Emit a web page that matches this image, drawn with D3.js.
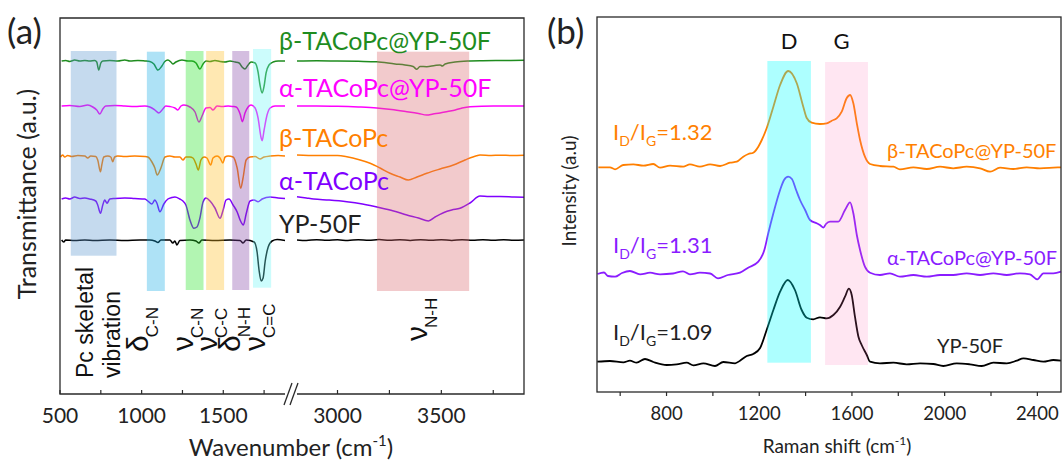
<!DOCTYPE html>
<html>
<head>
<meta charset="utf-8">
<script src="https://cdn.jsdelivr.net/npm/d3@7"></script>
<style>
  body { margin: 0; background: #fff; }
  svg { display: block; }
</style>
</head>
<body>
<svg id="fig" width="1063" height="461"></svg>
<script>
// ---------------- (a) FTIR spectra ----------------
// Each trace: [wavenumber (cm-1), transmittance change (a.u.) from its own baseline]
const ftirNames   = ["β-TACoPc@YP-50F", "α-TACoPc@YP-50F", "β-TACoPc", "α-TACoPc", "YP-50F"];
const ftirColors  = ["#1f8c1f", "#ff00ff", "#ff7f00", "#7f00ff", "#000000"];
const ftirOffsets = [333, 288, 238, 195, 154];   // vertical stacking (a.u.)

const betaHybridLow = [[510,0],[535,0.5],[560,-0.5],[590,1],[621,0],[652,0.5],[682,0],[713,0.5],[725,-1],[737,-9],[750,-2],[762,0],[805,0.5],[854,0],[897,1],[928,0],[977,0.5],[1020,0],[1050,-0.5],[1075,-3],[1100,-9],[1124,-5],[1142,-0.5],[1161,1],[1179,-1],[1191,-3],[1210,-1],[1247,1],[1284,0],[1308,0],[1333,-2],[1357,-8],[1376,-3],[1394,0],[1419,-0.5],[1449,0.5],[1480,-0.5],[1511,-1],[1541,0],[1572,-1],[1597,-2],[1615,-6],[1633,-8],[1652,-4],[1670,-1],[1695,-2],[1713,-11],[1725,-24],[1738,-32],[1750,-25],[1762,-12],[1780,-4],[1805,-1],[1836,0],[1878,0]];
const betaHybridHigh = [[2805,0],[2900,0.3],[3000,0],[3100,-0.3],[3189,-0.7],[3277,-3],[3325,-4],[3364,-5.5],[3382,-8.3],[3397,-5.5],[3430,-5.7],[3469,-4.5],[3494,-4],[3505,-5],[3518,-3],[3566,-1],[3638,0],[3700,0.3],[3782,0.5],[3898,0.7]];

const alphaHybridLow = [[510,0],[560,0.5],[621,-0.5],[670,1],[701,-1],[725,-4],[744,-8],[762,-3],[780,0],[836,0.5],[897,0],[958,-0.5],[1020,0],[1050,-1],[1081,-4],[1105,-7],[1130,-3],[1148,0],[1173,-0.5],[1204,-2],[1222,-4],[1241,0],[1259,1],[1296,-1],[1327,-6],[1351,-16],[1370,-10],[1394,-2],[1419,-1.5],[1437,-4],[1462,0],[1493,-0.5],[1530,0],[1560,-0.5],[1579,-1],[1603,-8],[1617,-15.7],[1633,-7],[1652,-1],[1670,1],[1695,-2],[1713,-12],[1732,-32],[1738,-34.7],[1750,-24],[1768,-9],[1787,-2],[1817,0],[1878,0]];
const alphaHybridHigh = [[2805,0],[2900,0],[3000,-0.3],[3100,-1],[3189,-2],[3260,-3.5],[3334,-5.7],[3390,-7.5],[3430,-9],[3460,-8],[3494,-7],[3530,-5.5],[3567,-4],[3600,-2],[3638,-0.7],[3750,0],[3898,0]];

const betaPcLow = [[504,-1],[516,1],[529,-1],[547,0.5],[572,-0.5],[609,0.5],[652,0],[670,-2],[688,0],[719,-0.5],[731,-4],[748,-15.7],[756,-9],[768,-1],[793,0],[811,-1],[823,-5.7],[835,-1],[854,0],[897,-0.5],[958,0],[1020,-0.5],[1038,-1],[1063,-6],[1081,-12],[1095,-19],[1118,-12],[1143,-1],[1173,0],[1204,-1],[1234,-1],[1253,-4],[1271,-1],[1296,-1],[1314,-2],[1333,-8],[1347,-14],[1363,-4],[1382,-1],[1400,-2],[1423,-9],[1437,-2],[1462,0],[1480,-2],[1497,-7],[1511,-1],[1530,0],[1560,-1],[1585,-12],[1607,-32.3],[1621,-22],[1640,-4],[1664,-1],[1695,-0.5],[1725,-3],[1750,-1],[1787,0],[1836,0.5],[1878,0]];
const betaPcHigh = [[2805,1],[2900,0.5],[3000,0.5],[3045,-0.7],[3109,-4],[3157,-7.3],[3205,-12],[3253,-17.3],[3301,-21],[3341,-24],[3383,-21],[3430,-17.3],[3494,-13],[3558,-9],[3614,-4],[3670,0.3],[3686,1],[3740,0.5],[3782,0.8],[3840,0.5],[3898,0.7]];

const alphaPcLow = [[510,0],[535,1],[560,0],[590,2],[621,0.5],[652,1],[682,0],[719,-2],[731,-6],[748,-14.3],[762,-6],[774,-1],[788,-4.3],[805,0],[836,0.5],[897,1],[958,0.5],[1020,0],[1038,-2],[1063,-5],[1081,-1],[1093,-4],[1112,-12.7],[1136,-5],[1161,0],[1185,1.5],[1204,2],[1234,0],[1253,-2],[1271,-6],[1296,-21],[1320,-29.3],[1339,-28],[1357,-19],[1376,-3],[1394,1],[1419,-2],[1449,-9],[1480,-19.3],[1499,-11],[1517,-1],[1535,0],[1560,-6],[1585,-13],[1603,-21],[1623,-26],[1640,-15],[1664,-2],[1689,-1],[1713,-2.7],[1738,0],[1787,2],[1836,1],[1878,0.5]];
const alphaPcHigh = [[2805,2.3],[2850,1],[2885,0],[2960,-1],[3045,-2.7],[3120,-5],[3205,-8.7],[3270,-12],[3334,-16],[3390,-19],[3438,-22],[3470,-18],[3510,-13.7],[3550,-11],[3590,-9.3],[3638,-4],[3686,3],[3730,2.5],[3782,2.5],[3850,2],[3898,1.7]];

const ypLow = [[510,0],[523,-2],[535,0],[590,-0.5],[652,0],[713,-0.5],[805,0],[897,-0.5],[989,0],[1050,0],[1081,-1],[1100,-2.5],[1118,0],[1173,0],[1191,-3],[1204,-1],[1216,-5],[1234,-0.5],[1296,0],[1333,-1],[1351,-3],[1369,0],[1449,-0.5],[1541,0],[1603,-0.5],[1621,-3],[1640,0],[1689,-2],[1707,-12],[1719,-30],[1732,-41],[1744,-38],[1756,-22],[1775,-7],[1799,-1],[1830,0.5],[1878,-0.5]];
const ypHigh = [[2805,0],[2850,-0.5],[2900,0.3],[2950,-0.3],[3000,0.2],[3050,-0.5],[3100,0.3],[3150,-0.2],[3200,0.4],[3250,-0.3],[3300,0.2],[3350,-0.4],[3400,0.3],[3450,-0.2],[3500,0.3],[3550,-0.4],[3600,0.2],[3650,-0.3],[3700,0.3],[3750,-0.2],[3800,0.2],[3850,-0.3],[3898,0]];

const ftirLow  = [betaHybridLow, alphaHybridLow, betaPcLow, alphaPcLow, ypLow];
const ftirHigh = [betaHybridHigh, alphaHybridHigh, betaPcHigh, alphaPcHigh, ypHigh];

// Assignment bands (cm-1) and their vertical extent (a.u.)
const bandLo     = [566, 1032, 1270, 1395, 1555, 1682, 3190];
const bandHi     = [846, 1142, 1379, 1505, 1659, 1793, 3634];
const bandTop    = [343, 342.3, 343, 343, 343, 345, 342.3];
const bandBottom = [138.3, 103, 104, 104, 104, 106.3, 103];
const bandColors = ["#5996ce", "#18ace5", "#23e223", "#ffbd23", "#8445a6", "#6df6f6", "#da686d"];

// Band assignment labels: [symbol, subscript, anchor wavenumber]
const bandSymbols = ["δ", "ν", "ν", "δ", "ν", "ν"];
const bandSubs    = ["C-N", "C-N", "C-C", "N-H", "C=C", "N-H"];
const bandAnchors = [1039, 1316, 1460, 1602, 1756, 3430];

const ftirTicksLow  = [500, 1000, 1500];
const ftirMinorLow  = [750, 1250, 1750];
const ftirTicksHigh = [3000, 3500];
const ftirMinorHigh = [3250, 3750];

// ---------------- (b) Raman spectra ----------------
// [Raman shift (cm-1), intensity (a.u.), offset included]
const ramanNames  = ["β-TACoPc@YP-50F", "α-TACoPc@YP-50F", "YP-50F"];
const ramanColors = ["#ff7f00", "#8a1cff", "#000000"];
const ramanRatios = ["1.32", "1.31", "1.09"];

const ramanBeta = [[506,224.7],[556,224.7],[578,222.7],[613,227],[657,227.7],[700,226.3],[743,228],[772,224.3],[815,226.3],[872,225.3],[901,227.7],[944,225.3],[988,227.7],[1031,226],[1074,229.3],[1103,230.3],[1131,235.3],[1153,238],[1174,239.3],[1196,245.3],[1211,252],[1232,263.7],[1261,285.3],[1290,307],[1325,321],[1362,308.7],[1390,285.3],[1405,274],[1426,269.3],[1462,268],[1491,268.7],[1513,271.3],[1534,273.7],[1556,280.3],[1577,293.7],[1592,297],[1606,288.7],[1621,268.7],[1635,252],[1656,235.3],[1678,228],[1721,226],[1779,225.3],[1807,222.7],[1865,224.7],[1923,223],[1980,225.3],[2037,223.7],[2095,225.3],[2153,223.7],[2196,220.3],[2239,224.3],[2296,223],[2354,224.7],[2411,223.7],[2469,224.3],[2502,224.7]];
const ramanAlpha = [[502,118],[530,119.5],[547,116],[578,115.3],[608,119],[642,121],[686,117.7],[729,119.3],[772,117.7],[828,118.5],[871,120.7],[901,117.7],[944,119.3],[988,118.5],[1022,113.7],[1065,117],[1117,119.3],[1152,124.3],[1196,130.3],[1222,142],[1239,158.7],[1261,178.7],[1290,202],[1307,212],[1325,215.3],[1341,213],[1359,202],[1376,192],[1398,182],[1419,172],[1448,168.7],[1462,167],[1477,164.3],[1488,168],[1505,170.3],[1541,170.3],[1570,182],[1592,189.7],[1606,178.7],[1621,157],[1635,142],[1656,125.3],[1678,119.3],[1721,117],[1764,118.7],[1807,115.3],[1865,117],[1923,115.3],[1980,117],[2037,117],[2095,118.7],[2153,117],[2210,118.7],[2268,117],[2325,118.7],[2368,117.7],[2400,112.7],[2426,118.7],[2469,118.7],[2502,120.3]];
const ramanYP = [[501,30.3],[556,31],[614,29.7],[642,31.3],[671,29.3],[707,33],[743,30],[801,27],[844,27.7],[887,29.3],[916,26.7],[959,28.7],[1009,26],[1045,30],[1096,28.7],[1117,31.3],[1146,36],[1174,38],[1203,43.7],[1232,62],[1261,82],[1290,100.3],[1323,112],[1354,102],[1383,82],[1405,74.3],[1433,72.7],[1462,74.7],[1491,73.7],[1520,77],[1549,85.3],[1570,95.3],[1587,103.3],[1599,97],[1613,75.3],[1628,55.3],[1642,47],[1664,37],[1678,30.3],[1721,28.7],[1779,29.3],[1836,27.7],[1894,28.7],[1951,28],[1994,26],[2052,28.7],[2109,27.7],[2160,26],[2210,29.3],[2268,28.7],[2311,31.3],[2340,33.7],[2383,32],[2426,30.3],[2469,32],[2502,31.3]];
const ramanSeries = [ramanBeta, ramanAlpha, ramanYP];

// D and G band windows (cm-1) and vertical extent (a.u.)
const ramanBandNames  = ["D", "G"];
const ramanBandLo     = [1235, 1484];
const ramanBandHi     = [1423, 1669];
const ramanBandTop    = [331, 330];
const ramanBandBottom = [29.3, 27];
const ramanBandColors = ["#00ffff", "#ff69b4"];
const ramanBandAlpha  = [0.32, 0.17];

const ramanTicks = [800, 1200, 1600, 2000, 2400];
const ramanMinor = [600, 1000, 1400, 1800, 2200];

// ---------------- drawing ----------------
const svg = d3.select("#fig");
const LATO = "Lato, 'Noto Sans', sans-serif";
const ARIAL = "'Liberation Sans', Arial, sans-serif";
const frameColor = "#2a2a2a";
const W = 400;

// ===== panel (a) =====
const A = { left: 60, right: 524, top: 18, bottom: 394, breakL: 285, breakR: 297 };
const xLow  = d3.scaleLinear().domain([500, 1878]).range([A.left, A.breakL]);
const xHigh = d3.scaleLinear().domain([2805, 3898]).range([A.breakR, A.right]);
const yA    = d3.scaleLinear().domain([0, 376]).range([A.bottom, A.top]);

const gA = svg.append("g");

// spectra
ftirNames.forEach((name, i) => {
  const off = ftirOffsets[i];
  const lineLow = d3.line().x(d => xLow(d[0])).y(d => yA(off + d[1])).curve(d3.curveMonotoneX);
  const lineHigh = d3.line().x(d => xHigh(d[0])).y(d => yA(off + d[1])).curve(d3.curveMonotoneX);
  gA.append("path").attr("d", lineLow(ftirLow[i])).attr("fill", "none")
    .attr("stroke", ftirColors[i]).attr("stroke-width", 1.5);
  gA.append("path").attr("d", lineHigh(ftirHigh[i])).attr("fill", "none")
    .attr("stroke", ftirColors[i]).attr("stroke-width", 1.5);
});

// shaded assignment bands (translucent, over the traces)
bandLo.forEach((lo, i) => {
  const sx = lo > 2000 ? xHigh : xLow;
  gA.append("rect")
    .attr("x", sx(lo)).attr("width", sx(bandHi[i]) - sx(lo))
    .attr("y", yA(bandTop[i])).attr("height", yA(bandBottom[i]) - yA(bandTop[i]))
    .attr("fill", bandColors[i]).attr("fill-opacity", 0.35);
});

// trace names
const ftirLabelY = [50, 97, 147, 190, 233];
ftirNames.forEach((name, i) => {
  gA.append("text").attr("x", 279).attr("y", ftirLabelY[i])
    .attr("font-family", LATO).attr("font-weight", W).attr("font-size", 25)
    .attr("fill", ftirColors[i] === "#000000" ? "#222" : ftirColors[i]).text(name);
});

// frame with axis break on the bottom
gA.append("path")
  .attr("d", `M${A.breakL},${A.bottom}H${A.left}V${A.top}H${A.right}V${A.bottom}H${A.breakR}`)
  .attr("fill", "none").attr("stroke", frameColor).attr("stroke-width", 1.3);
[0, 6].forEach(dx => {
  gA.append("line")
    .attr("x1", A.breakL - 1 + dx).attr("y1", A.bottom + 11)
    .attr("x2", A.breakL + 7 + dx).attr("y2", A.bottom - 11)
    .attr("stroke", frameColor).attr("stroke-width", 1.3);
});

// inward ticks
const tickA = (sx, v) => gA.append("line")
  .attr("x1", sx(v)).attr("x2", sx(v)).attr("y1", A.bottom).attr("y2", A.bottom - 4)
  .attr("stroke", frameColor).attr("stroke-width", 1.2);
ftirTicksLow.concat(ftirMinorLow).forEach(v => tickA(xLow, v));
ftirTicksHigh.concat(ftirMinorHigh).forEach(v => tickA(xHigh, v));
const tickLabelA = (sx, v) => gA.append("text")
  .attr("x", sx(v)).attr("y", 423).attr("text-anchor", "middle")
  .attr("font-family", LATO).attr("font-weight", W).attr("font-size", 21).attr("fill", "#222").text(v);
ftirTicksLow.forEach(v => tickLabelA(xLow, v));
ftirTicksHigh.forEach(v => tickLabelA(xHigh, v));

// axis titles
const xtA = gA.append("text").attr("x", 291).attr("y", 456).attr("text-anchor", "middle")
  .attr("font-family", LATO).attr("font-weight", W).attr("font-size", 24).attr("fill", "#222");
xtA.append("tspan").text("Wavenumber (cm");
xtA.append("tspan").attr("font-size", 15).attr("dy", -10).text("-1");
xtA.append("tspan").attr("dy", 10).text(")");

gA.append("text").attr("transform", "translate(36,194) rotate(-90)").attr("text-anchor", "middle")
  .attr("font-family", LATO).attr("font-weight", W).attr("font-size", 25).attr("fill", "#222")
  .text("Transmittance (a.u.)");

gA.append("text").attr("x", 7).attr("y", 44).attr("font-family", LATO).attr("font-weight", W)
  .attr("font-size", 35).attr("fill", "#222").text("(a)");

// band assignment labels (rotated)
gA.append("text").attr("transform", `translate(${xLow(700)},378) rotate(-90)`)
  .attr("font-family", ARIAL).attr("font-size", 23).attr("fill", "#111").text("Pc skeletal");
gA.append("text").attr("transform", `translate(${xLow(866)},378) rotate(-90)`)
  .attr("font-family", ARIAL).attr("font-size", 23).attr("fill", "#111").text("vibration");

const bandLabelStart = [352, 351, 351, 352, 351, 341];
bandSymbols.forEach((sym, i) => {
  const sx = bandAnchors[i] > 2000 ? xHigh : xLow;
  const t = gA.append("text")
    .attr("transform", `translate(${sx(bandAnchors[i])},${bandLabelStart[i]}) rotate(-90)`)
    .attr("font-family", ARIAL).attr("fill", "#111");
  t.append("tspan").attr("font-size", 30).text(sym);
  t.append("tspan").attr("font-size", 17).attr("dy", 10).attr("dx", -2).text(bandSubs[i]);
});

// ===== panel (b) =====
const B = { left: 597, right: 1061, top: 17, bottom: 392 };
const xR = d3.scaleLinear().domain([500, 2502]).range([B.left, B.right]);
const yR = d3.scaleLinear().domain([0, 375]).range([B.bottom, B.top]);
const gB = svg.append("g");

const ramanLine = d3.line().x(d => xR(d[0])).y(d => yR(d[1])).curve(d3.curveMonotoneX);
ramanSeries.forEach((s, i) => {
  gB.append("path").attr("d", ramanLine(s)).attr("fill", "none")
    .attr("stroke", ramanColors[i]).attr("stroke-width", 1.8);
});

ramanBandLo.forEach((lo, i) => {
  gB.append("rect")
    .attr("x", xR(lo)).attr("width", xR(ramanBandHi[i]) - xR(lo))
    .attr("y", yR(ramanBandTop[i])).attr("height", yR(ramanBandBottom[i]) - yR(ramanBandTop[i]))
    .attr("fill", ramanBandColors[i]).attr("fill-opacity", ramanBandAlpha[i]);
  gB.append("text").attr("x", xR((lo + ramanBandHi[i]) / 2) + (i === 0 ? 0 : -5)).attr("y", 49)
    .attr("text-anchor", "middle").attr("font-family", LATO).attr("font-weight", W)
    .attr("font-size", 22).attr("fill", "#111").text(ramanBandNames[i]);
});

// frame and ticks
gB.append("rect").attr("x", B.left).attr("y", B.top)
  .attr("width", B.right - B.left).attr("height", B.bottom - B.top)
  .attr("fill", "none").attr("stroke", frameColor).attr("stroke-width", 1.3);
ramanTicks.concat(ramanMinor).forEach(v => {
  gB.append("line").attr("x1", xR(v)).attr("x2", xR(v))
    .attr("y1", B.bottom).attr("y2", B.bottom + 4)
    .attr("stroke", frameColor).attr("stroke-width", 1.2);
});
ramanTicks.forEach(v => {
  gB.append("text").attr("x", xR(v)).attr("y", 420).attr("text-anchor", "middle")
    .attr("font-family", LATO).attr("font-weight", W).attr("font-size", 18.5).attr("fill", "#222").text(v);
});

const xtB = gB.append("text").attr("x", 837).attr("y", 453).attr("text-anchor", "middle")
  .attr("font-family", LATO).attr("font-weight", W).attr("font-size", 19).attr("fill", "#222");
xtB.append("tspan").text("Raman shift (cm");
xtB.append("tspan").attr("font-size", 12).attr("dy", -8).text("-1");
xtB.append("tspan").attr("dy", 8).text(")");

gB.append("text").attr("transform", "translate(576,191) rotate(-90)").attr("text-anchor", "middle")
  .attr("font-family", LATO).attr("font-weight", W).attr("font-size", 19).attr("fill", "#222")
  .text("Intensity (a.u)");

gB.append("text").attr("x", 547).attr("y", 44).attr("font-family", LATO).attr("font-weight", W)
  .attr("font-size", 35).attr("fill", "#222").text("(b)");

// intensity-ratio annotations and sample names
const ratioY = [140, 253, 340];
const nameY  = [158, 265, 353];
const nameX  = [887, 887, 937];
ramanNames.forEach((name, i) => {
  const col = ramanColors[i] === "#000000" ? "#222" : ramanColors[i];
  const t = gB.append("text").attr("x", 613).attr("y", ratioY[i])
    .attr("font-family", LATO).attr("font-weight", W).attr("font-size", 22).attr("fill", col);
  t.append("tspan").text("I");
  t.append("tspan").attr("font-size", 14).attr("dy", 6).text("D");
  t.append("tspan").attr("dy", -6).text("/I");
  t.append("tspan").attr("font-size", 14).attr("dy", 6).text("G");
  t.append("tspan").attr("dy", -6).text("=" + ramanRatios[i]);
  gB.append("text").attr("x", nameX[i]).attr("y", nameY[i])
    .attr("font-family", LATO).attr("font-weight", W).attr("font-size", 20).attr("fill", col).text(name);
});
</script>
</body>
</html>
